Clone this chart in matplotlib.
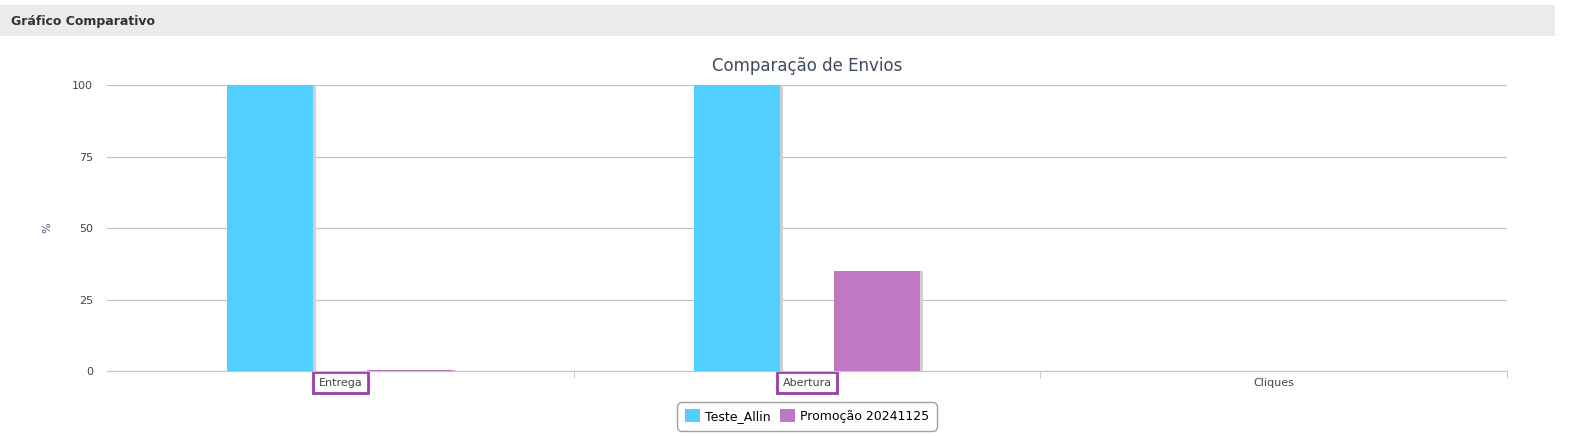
import matplotlib.pyplot as plt
from matplotlib.patches import Rectangle
import numpy as np

categories = ['Entrega', 'Abertura', 'Cliques']
teste_allin = [100, 100, 0]
promocao = [0.5, 35, 0]
yticks = [0, 25, 50, 75, 100]

fig = plt.figure(figsize=(15.87, 4.36), dpi=100)
fig.patch.set_facecolor('white')

# header bar
fig.patches.append(Rectangle((0, 1 - 36 / 436), 1555 / 1587, 31 / 436, transform=fig.transFigure,
                             facecolor='#ececec', edgecolor='none', zorder=0))
fig.text(11 / 1587, 1 - 21 / 436, 'Gráfico Comparativo', fontsize=9, fontweight='bold',
         color='#333333', va='center')

ax = fig.add_axes([107 / 1587, 1 - 371 / 436, 1400 / 1587, 286 / 436])
x = np.arange(len(categories))
w = 0.184
off = 0.15
# shadows
ax.bar(x - off + 0.006, teste_allin, w, color='#d0d0d0', zorder=2)
ax.bar(x + off + 0.006, promocao, w, color='#d0d0d0', zorder=2)
ax.bar(x - off, teste_allin, w, color='#52cfff', label='Teste_Allin', zorder=3)
ax.bar(x + off, promocao, w, color='#bf78c2', label='Promoção 20241125', zorder=3)

ax.set_xlim(-0.5, 2.5)
ax.set_ylim(0, 100)
ax.set_yticks(yticks)
ax.set_yticklabels([str(v) for v in yticks], fontsize=8, color='#444444')
ax.yaxis.grid(True, color='#c0c0c0', linewidth=0.8, zorder=0)
ax.set_xticks(x)
ax.set_xticklabels(categories, fontsize=8, color='#444444')
ax.set_xticks([0.5, 1.5, 2.5], minor=True)
ax.tick_params(axis='x', which='minor', length=5, color='#c0c0d8')
ax.tick_params(axis='x', which='major', length=0, pad=5)
ax.tick_params(axis='y', length=0, pad=10)
for s in ['top', 'right', 'left']:
    ax.spines[s].set_visible(False)
ax.spines['bottom'].set_color('#c0c0d8')
ax.set_ylabel('%', fontsize=8, color='#4a5a7a', labelpad=14)
ax.set_title('Comparação de Envios', fontsize=12, color='#3e4a5e', pad=10)

for lbl in ax.get_xticklabels()[:2]:
    lbl.set_bbox(dict(facecolor='none', edgecolor='#9b3fa8', linewidth=2, pad=4))

leg = ax.legend(loc='upper center', bbox_to_anchor=(0.5, -0.095), ncol=2, fontsize=9,
                frameon=True, edgecolor='#888888', handlelength=1.2, handleheight=1.2,
                columnspacing=0.8, handletextpad=0.4, borderpad=0.4)
leg.get_frame().set_boxstyle('round,pad=0.2,rounding_size=0.4')

fig.savefig('out.png', dpi=100)
